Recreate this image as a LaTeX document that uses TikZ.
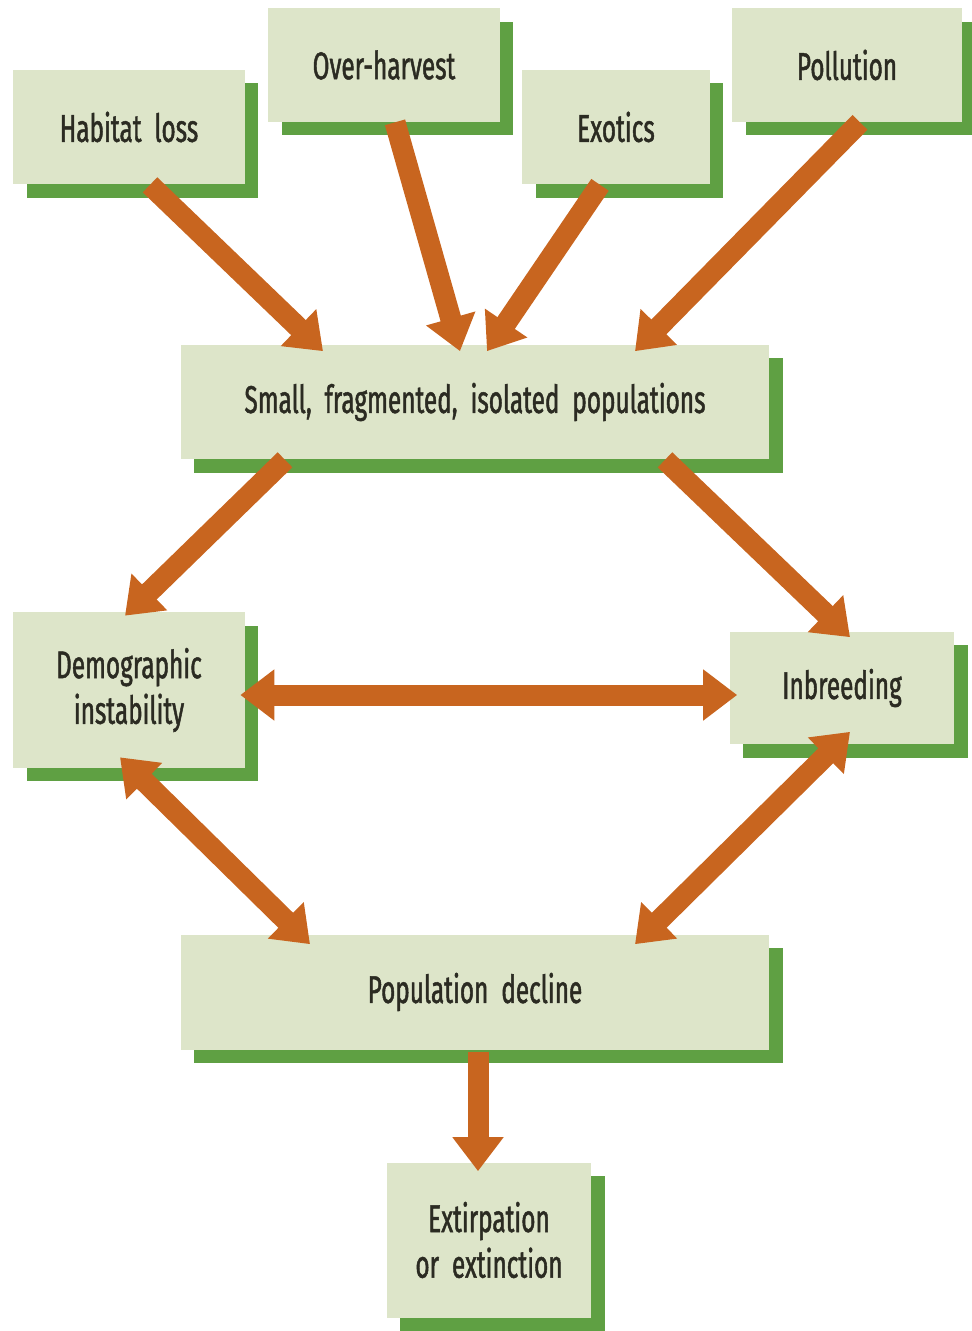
\documentclass[tikz,border=0pt]{standalone}
\usepackage{fontspec}
\setmainfont{Fira Sans}[FakeStretch=0.63,FakeBold=1.2]
\usepackage{tikz}
\usetikzlibrary{calc,arrows.meta,shadows}
\definecolor{boxfill}{HTML}{DDE5C9}
\definecolor{boxshadow}{HTML}{5FA043}
\definecolor{arrorange}{HTML}{C8651F}
\definecolor{boxtext}{HTML}{2B2B22}

\begin{document}
\begin{tikzpicture}[
    x=0.02cm, y=-0.02cm,
    font=\fontsize{22}{26}\selectfont, text=boxtext,
    cause/.style={rectangle, fill=boxfill, inner sep=0pt, align=center,
      drop shadow={shadow xshift=0.27cm, shadow yshift=-0.27cm, fill=boxshadow, opacity=1}},
    arr/.style={-{Triangle[length=0.68cm,width=0.98cm]}, line width=0.42cm, draw=arrorange},
    darr/.style={{Triangle[length=0.68cm,width=0.98cm]}-{Triangle[length=0.68cm,width=0.98cm]}, line width=0.42cm, draw=arrorange}
  ]
    \useasboundingbox (0,0) rectangle (972,1331);

    % top row of causes
    \node[cause, minimum width=4.64cm, minimum height=2.3cm] (hab) at (129,127) {Habitat\ \ loss};
    \node[cause, minimum width=4.64cm, minimum height=2.28cm] (over) at (384,65) {Over-harvest};
    \node[cause, minimum width=3.76cm, minimum height=2.3cm] (exo) at (616,127) {Exotics};
    \node[cause, minimum width=4.6cm, minimum height=2.28cm] (pol) at (847,65) {Pollution};

    \node[cause, minimum width=11.78cm, minimum height=2.3cm] (small) at (475,402)
      {Small,\ \ fragmented,\ \ isolated\ \ populations};

    \node[cause, minimum width=4.64cm, minimum height=3.12cm] (demo) at (129,690) {Demographic\\instability};
    \node[cause, minimum width=4.5cm, minimum height=2.26cm] (inb) at (842,688) {Inbreeding};

    \node[cause, minimum width=11.78cm, minimum height=2.3cm] (decl) at (475,992) {Population\ \ decline};
    \node[cause, minimum width=4.1cm, minimum height=3.1cm] (ext) at (489,1240) {Extirpation\\or\ \ extinction};

    % arrows
    \draw[arr] ($(hab.south)+(21,0)$) -- ($(small.north)+(-152,7)$);
    \draw[arr] ($(over.south)+(11,0)$) -- ($(small.north)+(-15,7)$);
    \draw[arr] ($(exo.south)+(-16,0)$) -- ($(small.north)+(12,7)$);
    \draw[arr] ($(pol.south)+(13,0)$) -- ($(small.north)+(160,7)$);

    \draw[arr] ($(small.south)+(-190,0)$) -- ($(demo.north)+(-4,4)$);
    \draw[arr] ($(small.south)+(190,0)$) -- ($(inb.north)+(8,6)$);
    \draw[darr] ($(demo.east)+(-5,5)$) -- ($(inb.west)+(8,7)$);

    \draw[darr] ($(demo.south)+(-9,-11)$) -- ($(decl.north)+(-165,10)$);
    \draw[darr] ($(inb.south)+(8,-13)$) -- ($(decl.north)+(160,10)$);

    \draw[arr] ($(decl.south)+(3,2)$) -- ($(ext.north)+(-11,9)$);
\end{tikzpicture}
\end{document}
